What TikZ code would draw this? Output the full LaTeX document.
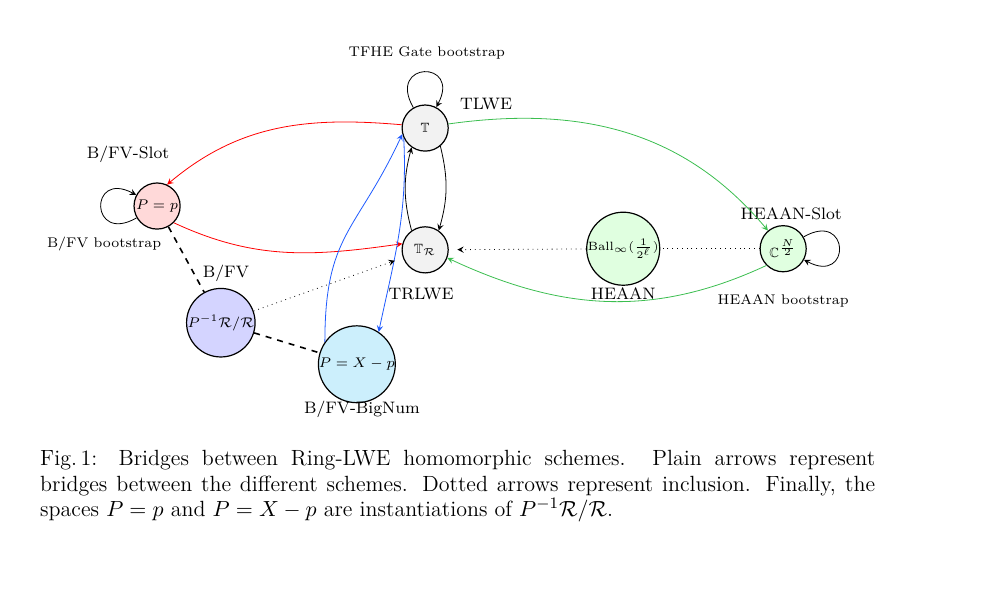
\documentclass[tikz,border=0pt]{standalone}
\usepackage{amsmath,amssymb}
\definecolor{heaangreen}{RGB}{60,190,80}
\definecolor{tfheblue}{RGB}{30,90,255}
\begin{document}
\begin{tikzpicture}[x=10mm,y=10mm,>=stealth,
  every node/.style={font=\fontsize{8.3}{10}\selectfont},
  ring/.style={circle,draw,semithick,minimum size=8.1mm,inner sep=0pt,font=\fontsize{6.7}{8}\selectfont},
  bigring/.style={ring,minimum size=10.9mm},
  boot/.style={font=\fontsize{7}{8.5}\selectfont},
  every loop/.style={looseness=6,min distance=3.7mm}]

\useasboundingbox (0,0) rectangle (17.57,10.35);

% spaces
\node[ring,fill=gray!10] (T) at (7.47,8.10) {$\mathbb{T}$};
\node[ring,fill=gray!10] (TR) at (7.47,5.96) {$\mathbb{T}_\mathcal{R}$};
\node[ring,fill=red!15] (Pp) at (2.76,6.73) {$P=p$};
\node[bigring,fill=blue!17] (Pinv) at (3.88,4.68) {$P^{-1}\mathcal{R}/\mathcal{R}$};
\node[bigring,fill=cyan!20] (PX) at (6.27,3.95) {$P=X-p$};
\node[bigring,fill=green!12,font=\fontsize{5.8}{7}\selectfont] (Ball) at (10.95,5.98) {$\mathrm{Ball}_\infty(\frac{1}{2^\ell})$};
\node[ring,fill=green!12] (C) at (13.76,5.98) {$\mathbb{C}^{\frac{N}{2}}$};

% names
\node[boot] (tfhe) at (7.50,9.42) {TFHE Gate bootstrap};
\node (tlwe) at (8.54,8.52) {TLWE};
\node (slot) at (2.25,7.63) {B/FV-Slot};
\node[boot] (bfvboot) at (1.83,6.06) {B/FV bootstrap};
\node (bfv) at (3.97,5.54) {B/FV};
\node (trlwe) at (7.40,5.18) {TRLWE};
\node (bignum) at (6.36,3.16) {B/FV-BigNum};
\node (heaan) at (10.95,5.20) {HEAAN};
\node (hslot) at (13.90,6.59) {HEAAN-Slot};
\node[boot] (hboot) at (13.76,5.06) {HEAAN bootstrap};

% bootstraps
\draw[->] (T) to[out=120,in=62,loop] (T);
\draw[->] (Pp) to[out=210,in=152,loop] (Pp);
\draw[->] (C) to[out=30,in=-28,loop] (C);

\draw[->] (T.-50) to[bend left=15] (TR.55);
\draw[->] (TR.125) to[bend left=15] (T.-125);

\draw[->,red] (T.172) to[out=175,in=40] (Pp.65);
\draw[->,red] (Pp.-45) to[out=-25,in=188] (TR.165);

\draw[->,tfheblue] (PX.145) to[out=90,in=245,looseness=1.25] (T.195);
\draw[->,tfheblue] (T.205) to[out=-87,in=78] (PX.56);

\draw[->,heaangreen] (T.10) to[out=8,in=130] (C.130);
\draw[->,heaangreen] (C.-135) to[out=-155,in=-25] (TR.-20);

\begin{scope}[dotted]
\draw[->,shorten >=1.5mm] (Pinv) -- (TR);
\draw[->,shorten >=1.5mm] (Ball) -- (TR);
\draw (C) -- (Ball);
\end{scope}

\draw[dashed,thick] (Pp) -- (Pinv);
\draw[dashed,thick] (Pinv) -- (PX);

% caption
\node[anchor=north west,text width=14.67cm,align=justify,inner sep=0pt,
  font=\fontsize{11}{12.9}\selectfont] (cap) at (0.70,2.45)
  {Fig.\,1: Bridges between Ring-LWE homomorphic schemes. Plain arrows represent\linebreak bridges between the different schemes. Dotted arrows represent inclusion. Finally, the\linebreak spaces $P=p$ and $P=X-p$ are instantiations of $P^{-1}\mathcal{R}/\mathcal{R}$.};

\end{tikzpicture}
\end{document}
